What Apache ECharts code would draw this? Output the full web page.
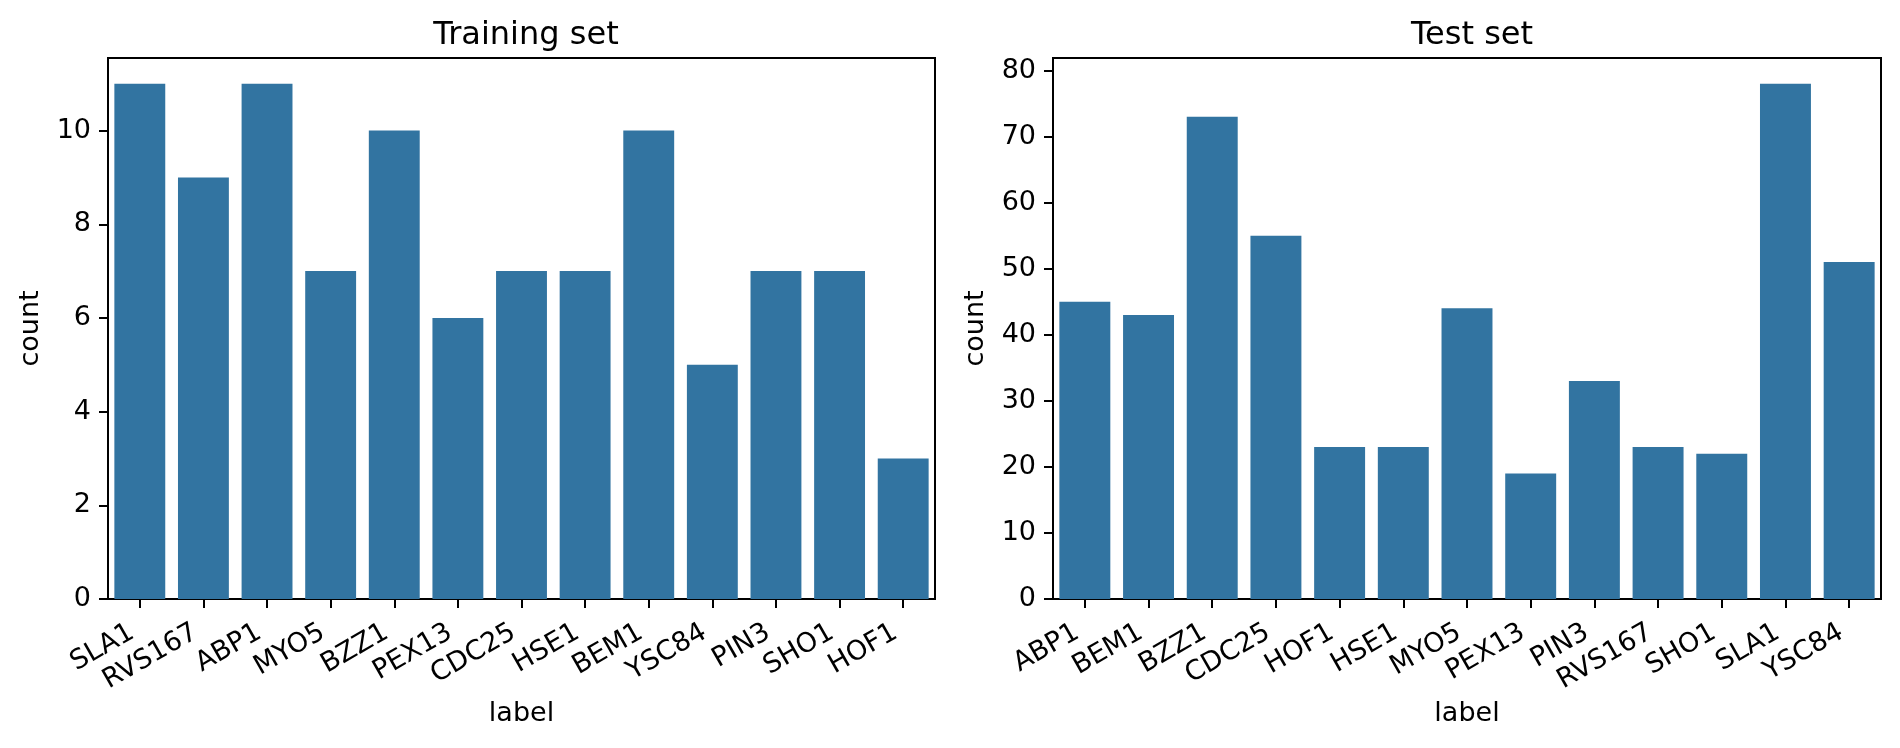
<!DOCTYPE html>
<html>
<head>
<meta charset="utf-8">
<script src="https://cdn.jsdelivr.net/npm/echarts@6/dist/echarts.min.js"></script>
<style>html,body{margin:0;padding:0;background:#fff}#c{width:1900px;height:748px}</style>
</head>
<body>
<div id="c"></div>
<script>
const trainCategories = ['SLA1','RVS167','ABP1','MYO5','BZZ1','PEX13','CDC25','HSE1','BEM1','YSC84','PIN3','SHO1','HOF1'];
const trainCounts = [11, 9, 11, 7, 10, 6, 7, 7, 10, 5, 7, 7, 3];
const testCategories = ['ABP1','BEM1','BZZ1','CDC25','HOF1','HSE1','MYO5','PEX13','PIN3','RVS167','SHO1','SLA1','YSC84'];
const testCounts = [45, 43, 73, 55, 23, 23, 44, 19, 33, 23, 22, 78, 51];
const trainTicks = [0, 2, 4, 6, 8, 10];
const testTicks = [0, 10, 20, 30, 40, 50, 60, 70, 80];
const titles = ['Training set', 'Test set'];

const FONT = 'DejaVu Sans';
const LW = 2;
const FS = 27;
const barColor = '#3274a1';

function xAx(idx, cats) {
  return {
    type: 'category', gridIndex: idx, data: cats,
    name: 'label', nameLocation: 'middle', nameGap: 115,
    nameTextStyle: {fontFamily: FONT, fontSize: FS, color: '#000', verticalAlign: 'middle'},
    axisLine: {show: true, lineStyle: {color: '#000', width: LW}},
    axisTick: {show: true, alignWithLabel: true, length: 9, lineStyle: {color: '#000', width: LW}},
    axisLabel: {rotate: 30, interval: 0, margin: 27, padding: [0, 9, 0, 0], fontFamily: FONT, fontSize: FS, color: '#000'},
    splitLine: {show: false}
  };
}
function yAx(idx, max, ticks) {
  return {
    type: 'value', gridIndex: idx, min: 0, max: max,
    name: 'count', nameLocation: 'middle', nameGap: 77, nameRotate: 90,
    nameTextStyle: {fontFamily: FONT, fontSize: FS, color: '#000', verticalAlign: 'middle'},
    axisLine: {show: true, lineStyle: {color: '#000', width: LW}},
    axisTick: {show: true, length: 9, customValues: ticks, lineStyle: {color: '#000', width: LW}},
    axisLabel: {margin: 17, customValues: ticks, fontFamily: FONT, fontSize: FS, color: '#000'},
    splitLine: {show: false}
  };
}

const chart = echarts.init(document.getElementById('c'), null, {renderer: 'canvas'});
chart.setOption({
  animation: false,
  backgroundColor: '#fff',
  title: [
    {text: titles[0], left: 521, top: 15, textAlign: 'center', textStyle: {fontFamily: FONT, fontSize: 32, fontWeight: 'normal', color: '#000'}},
    {text: titles[1], left: 1467, top: 15, textAlign: 'center', textStyle: {fontFamily: FONT, fontSize: 32, fontWeight: 'normal', color: '#000'}}
  ],
  grid: [
    {left: 108, top: 58, width: 827, height: 541, show: true, borderColor: '#000', borderWidth: LW, backgroundColor: 'transparent'},
    {left: 1053, top: 58, width: 828, height: 541, show: true, borderColor: '#000', borderWidth: LW, backgroundColor: 'transparent'}
  ],
  xAxis: [xAx(0, trainCategories), xAx(1, testCategories)],
  yAxis: [yAx(0, 11.55, trainTicks), yAx(1, 81.9, testTicks)],
  series: [
    {type: 'bar', xAxisIndex: 0, yAxisIndex: 0, data: trainCounts, barCategoryGap: '20%', itemStyle: {color: barColor}},
    {type: 'bar', xAxisIndex: 1, yAxisIndex: 1, data: testCounts, barCategoryGap: '20%', itemStyle: {color: barColor}}
  ]
});
</script>
</body>
</html>
